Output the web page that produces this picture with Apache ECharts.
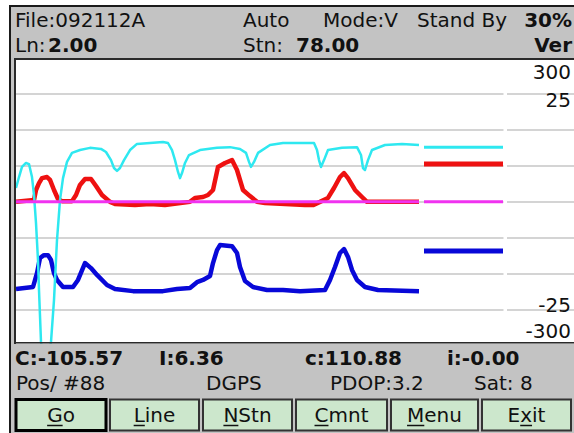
<!DOCTYPE html>
<html>
<head>
<meta charset="utf-8">
<script src="https://cdn.jsdelivr.net/npm/echarts@6/dist/echarts.min.js"></script>
<style>
html,body{margin:0;padding:0;background:#ffffff;}
#c{width:574px;height:433px;}
</style>
</head>
<body>
<div id="c"></div>
<script>
// ---- data (x = distance along trace, y = signal) ----
const cyanPos = [0,3,6,10,13,16,18,20,22,23,25,27,32,35,38,41,44,47,51,56,64,74,85,90,95,98,101,104,108,114,121,134,147,152,156,159,162,164,166,169,173,184,201,214,224,230,233,235,238,242,254,267,298,301,303,305,308,312,326,341,345,347,349,352,356,369,386,403];
const cyanVal = [3.75,6.8,9.6,10.7,10.4,6.8,1.8,-6.0,-16.3,-24.6,-39.0,-42.9,-42.9,-39.0,-27.4,-10.7,0.4,6.5,11.0,13.5,14.3,14.9,14.6,13.75,11.5,9.3,8.5,9.3,11.5,14.3,16.0,16.25,16.5,16.25,14.3,11.5,8.2,6.5,7.9,10.7,12.9,14.3,14.9,15.1,14.6,13.5,11.0,9.6,11.0,13.5,15.7,16.25,16.25,14.3,11.5,9.6,11.5,14.3,14.9,15.1,12.9,9.3,8.75,11.5,14.3,15.7,16.0,15.7];

const redPos = [0,18,20,23,26,31,34,38,42,46,56,60,64,69,75,80,86,94,99,119,134,149,174,179,187,192,197,202,209,216,221,227,234,241,249,289,297,304,312,318,324,328,332,339,346,351,403];
const redVal = [-0.1,0.4,3.2,5.1,6.5,6.8,6.0,3.2,0.7,0.1,0.1,1.8,4.6,6.25,6.25,4.3,1.8,-0.1,-0.7,-1.0,-0.7,-1.0,-0.1,1.0,1.25,1.8,3.2,9.6,10.7,11.5,8.75,3.2,1.5,-0.1,-0.4,-1.0,-1.0,-0.1,1.0,3.75,6.8,7.9,6.5,3.2,1.25,-0.1,-0.1];

const bluePos = [0,17,21,24,28,32,35,38,41,47,57,62,69,75,81,91,99,117,147,161,174,181,187,194,197,201,204,216,221,224,229,237,251,267,284,309,314,319,324,328,332,336,341,349,362,403];
const blueVal = [-24.3,-23.75,-19.9,-15.7,-14.9,-14.9,-16.25,-19.9,-21.8,-23.75,-23.75,-21.8,-17.1,-18.5,-20.4,-23.2,-24.3,-24.9,-24.9,-24.3,-24.0,-22.4,-21.8,-20.7,-17.1,-13.5,-12.1,-12.4,-14.3,-18.2,-22.1,-23.75,-24.6,-24.6,-24.9,-24.6,-21.8,-18.2,-14.3,-13.2,-15.4,-19.0,-21.8,-23.75,-24.6,-24.9];

const magentaPos = [0,403];
const magentaVal = [-0.1,-0.1];

// current-value bars at right (cyan, red, magenta, blue)
const currentRange = [408,487];
const currentVal = [15.1,10.4,-0.1,-13.75];

// right-side scale labels
const rightLabels = ['300','25','-25','-300'];

// header / status texts
const headerRow1 = ['File:092112A','Auto','Mode:V','Stand By','30%'];
const headerRow2 = ['Ln:','2.00','Stn:','78.00','Ver'];
const statusRow1 = ['C:-105.57','I:6.36','c:110.88','i:-0.00'];
const statusRow2 = ['Pos/ #88','DGPS','PDOP:3.2','Sat: 8'];
const buttons = ['Go','Line','NStn','Cmnt','Menu','Exit'];
const buttonHotkey = [0,0,0,0,0,1];

// ---- build ----
const zip = (a,b) => a.map((v,i)=>[v,b[i]]);
const FONT = '"DejaVu Sans", sans-serif';
const GRAY = '#c3c3c3';

function T(x,y,s,bold,align){
  return {type:'text', z:120, x:x, y:y, silent:true,
    style:{text:s, fill:'#111', fontFamily:FONT, fontSize:20, fontWeight: bold?'bold':'normal',
      align: align||'left', verticalAlign:'middle', textAlign: align||'left', textVerticalAlign:'middle'}};
}
function R(x,y,w,h,fill,stroke,lw,z){
  return {type:'rect', z:z||100, silent:true, shape:{x:x,y:y,width:w,height:h},
    style:{fill:fill, stroke:stroke||null, lineWidth:lw||0}};
}
function L(x1,y1,x2,y2,color,w,z){
  return {type:'line', z:z||115, silent:true, shape:{x1:x1,y1:y1,x2:x2,y2:y2},
    style:{stroke:color, lineWidth:w}};
}

const g = [];
// outer white margins and screen border
g.push(R(0,0,9,433,'#ffffff',null,0,130));
g.push(R(0,0,574,5,'#ffffff',null,0,130));
g.push(L(10,5,10,433,'#1a1a1a',2,131));
g.push(L(9,6,574,6,'#1a1a1a',2,131));
// header & footer panels
g.push(R(11,7,563,51,GRAY,null,0,100));
g.push(R(11,343.5,563,90,GRAY,null,0,100));
g.push(R(11,58,4,286,GRAY,null,0,100));
// plot border
g.push(L(14,59,574,59,'#2a2a2a',2));
g.push(L(15,58,15,344,'#2a2a2a',2));
g.push(L(14,342.8,574,342.8,'#2a2a2a',1.6));
// gap in grid lines
g.push(R(503.5,62,3.5,278,'#ffffff',null,0,1));

// header texts
const hx1 = [15,243,323,417,572];
headerRow1.forEach((s,i)=>g.push(T(hx1[i],20,s,i===4,i===4?'right':'left')));
const hx2 = [15,48,243,296,572];
headerRow2.forEach((s,i)=>g.push(T(hx2[i],45,s,i===1||i===3||i===4,i===4?'right':'left')));

// right scale labels
const ly = [71.5,100,305,330.5];
rightLabels.forEach((s,i)=>g.push(T(571,ly[i],s,false,'right')));

// status rows
const sx1 = [15,159,305,447];
statusRow1.forEach((s,i)=>g.push(T(sx1[i],358,s,true)));
const sx2 = [16,206,330,474];
statusRow2.forEach((s,i)=>g.push(T(sx2[i],383,s,false)));

// buttons
const bx = [[16,106],[110,199],[203,292],[296,387],[391,478],[482,571]];
const ctx = document.createElement('canvas').getContext('2d');
ctx.font = '20px "DejaVu Sans"';
buttons.forEach((s,i)=>{
  const [a,b] = bx[i];
  const sel = i===0;
  g.push(R(a,399.5,b-a,31,'#cce7cc',sel?'#000':'#333',sel?3:2,105));
  const cx = (a+b)/2;
  g.push(T(cx,415,s,false,'center'));
  const tw = ctx.measureText(s).width;
  const k = buttonHotkey[i];
  const pre = ctx.measureText(s.slice(0,k)).width;
  const lw = ctx.measureText(s[k]).width;
  const sx = cx - tw/2 + pre;
  g.push(L(sx, 425.5, sx+lw, 425.5, '#111', 1.5, 121));
});

const currentColors = ['#2ee8f0','#ee1111','#f032f0','#0808d8'];
const currentWidths = [3,5,3,5];

const series = [
  {name:'blue', type:'line', data:zip(bluePos,blueVal), showSymbol:false, z:3,
    lineStyle:{color:'#0808d8', width:4.5, join:'round'}},
  {name:'red', type:'line', data:zip(redPos,redVal), showSymbol:false, z:4,
    lineStyle:{color:'#ee1111', width:4.5, join:'round'}},
  {name:'cyan', type:'line', data:zip(cyanPos,cyanVal), showSymbol:false, z:5,
    lineStyle:{color:'#2ee8f0', width:2.5, join:'round'}},
  {name:'magenta', type:'line', data:zip(magentaPos,magentaVal), showSymbol:false, z:6,
    lineStyle:{color:'#f032f0', width:3}}
];
currentVal.forEach((v,i)=>{
  series.push({type:'line', showSymbol:false, z:7,
    data:[[currentRange[0],v],[currentRange[1],v]],
    lineStyle:{color:currentColors[i], width:currentWidths[i]}});
});

const chart = echarts.init(document.getElementById('c'), null, {renderer:'svg', width:574, height:433});
chart.setOption({
  animation:false,
  backgroundColor: GRAY,
  grid:{left:16, top:57.5, width:558, height:288, show:true, backgroundColor:'#ffffff', borderWidth:0},
  xAxis:{type:'value', min:0, max:558, show:false},
  yAxis:{type:'value', min:-40, max:40, interval:10,
    axisLine:{show:false}, axisTick:{show:false}, axisLabel:{show:false},
    splitLine:{show:true, lineStyle:{color:'#c6c6c6', width:1.6}}},
  series: series,
  graphic: g
});
</script>
</body>
</html>
